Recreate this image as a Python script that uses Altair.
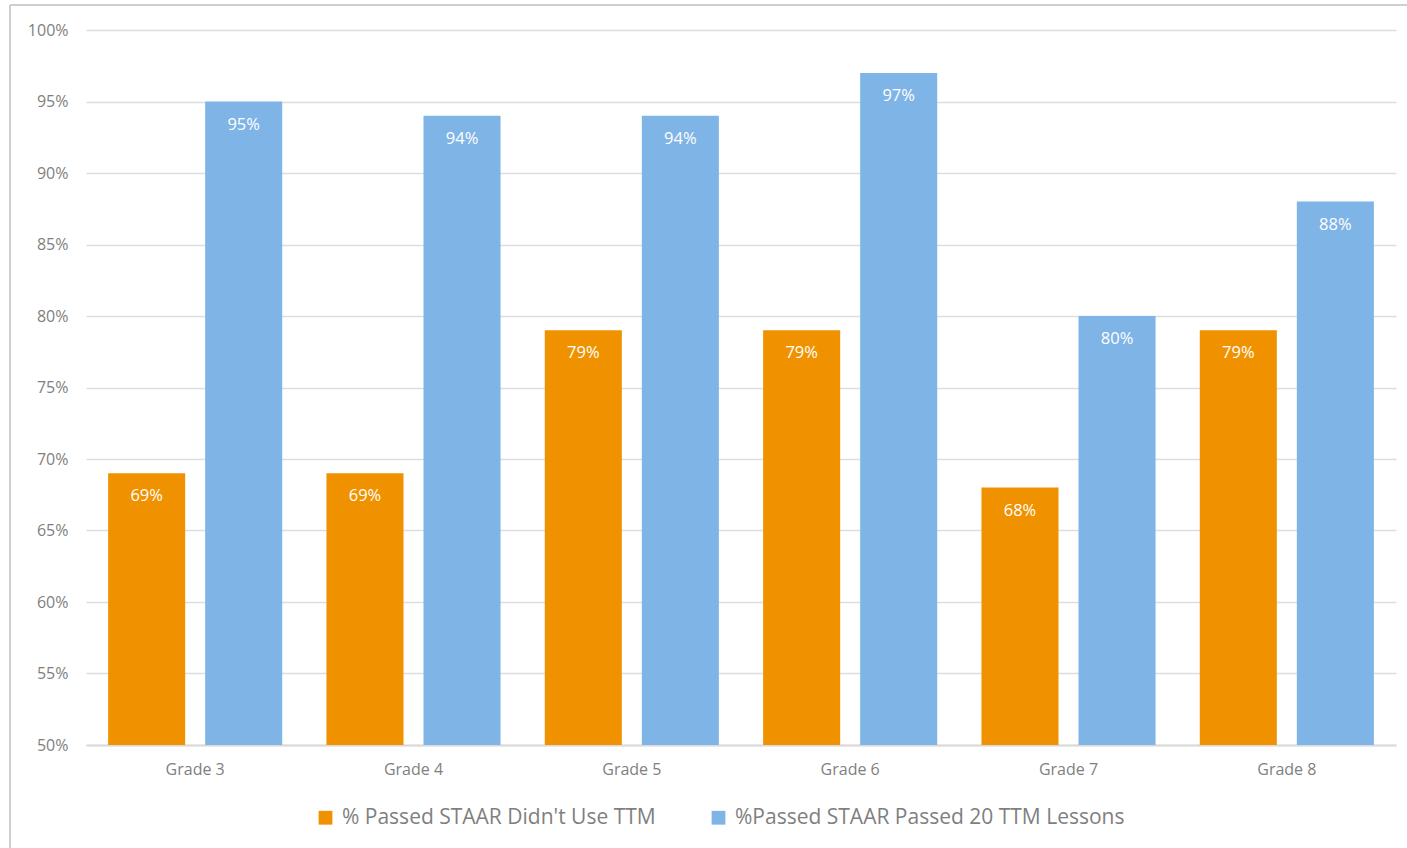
import altair as alt
import pandas as pd

grades = ["Grade 3", "Grade 4", "Grade 5", "Grade 6", "Grade 7", "Grade 8"]
didnt_use = [0.69, 0.69, 0.79, 0.79, 0.68, 0.79]
passed_20 = [0.95, 0.94, 0.94, 0.97, 0.80, 0.88]
series = ["% Passed STAAR Didn't Use TTM", "%Passed STAAR Passed 20 TTM Lessons"]
colors = ["#F09200", "#7FB4E6"]
y_ticks = [0.50, 0.55, 0.60, 0.65, 0.70, 0.75, 0.80, 0.85, 0.90, 0.95, 1.00]

rows = []
for g, a, b in zip(grades, didnt_use, passed_20):
    rows.append({"grade": g, "series": series[0], "value": a})
    rows.append({"grade": g, "series": series[1], "value": b})
df = pd.DataFrame(rows)

FONT = "Open Sans"
W, H = 1310, 715

x = alt.X("grade:N", sort=grades, title=None,
          scale=alt.Scale(paddingInner=0, paddingOuter=0),
          axis=alt.Axis(labelAngle=0, labelFontSize=16, labelColor="#7F7F7F",
                        labelFont=FONT, labelPadding=16, ticks=False,
                        domainColor="#D9D9D9", domainWidth=2))
xo = alt.XOffset("series:N", sort=series,
                 scale=alt.Scale(paddingInner=0.206, paddingOuter=0.228))
y = alt.Y("value:Q", title=None,
          scale=alt.Scale(domain=[0.5, 1.0], zero=False, nice=False),
          axis=alt.Axis(format=".0%", values=y_ticks, labelFontSize=16,
                        labelColor="#7F7F7F", labelFont=FONT, ticks=False,
                        domain=False, gridColor="#DDDDDD", gridWidth=1.3,
                        labelPadding=18))

base = alt.Chart(df)

bars = base.mark_bar().encode(
    x=x, xOffset=xo, y=y, y2=alt.datum(0.5),
    color=alt.Color("series:N", sort=series,
                    scale=alt.Scale(domain=series, range=colors),
                    legend=alt.Legend(title=None, orient="none", direction="horizontal",
                                      legendX=229, legendY=777, labelFontSize=21,
                                      labelFont=FONT, labelColor="#7F7F7F",
                                      symbolType="square", symbolSize=190,
                                      symbolStrokeWidth=0, columnPadding=52,
                                      labelOffset=6, labelLimit=600)),
)

labels = base.mark_text(color="white", font=FONT, fontSize=16.5, dy=23,
                        baseline="middle").encode(
    x=x, xOffset=xo, y="value:Q",
    text=alt.Text("value:Q", format=".0%"),
)

border_df = pd.DataFrame({"k": [0]})
left_border = alt.Chart(border_df).mark_rule(color="#BFBFBF", strokeWidth=1.5).encode(
    x=alt.value(-76), y=alt.value(-25), y2=alt.value(H + 110))
top_border = alt.Chart(border_df).mark_rule(color="#BFBFBF", strokeWidth=1.5).encode(
    x=alt.value(-76), x2=alt.value(W + 30), y=alt.value(-25))

chart = alt.layer(bars, labels, left_border, top_border).properties(
    width=W, height=H,
    autosize=alt.AutoSizeParams(type="none"),
    padding={"left": 86, "top": 30, "right": 11, "bottom": 103},
    background="white",
).configure_view(stroke=None)

chart.save("out.html", embed_options={"renderer": "svg", "actions": False})
